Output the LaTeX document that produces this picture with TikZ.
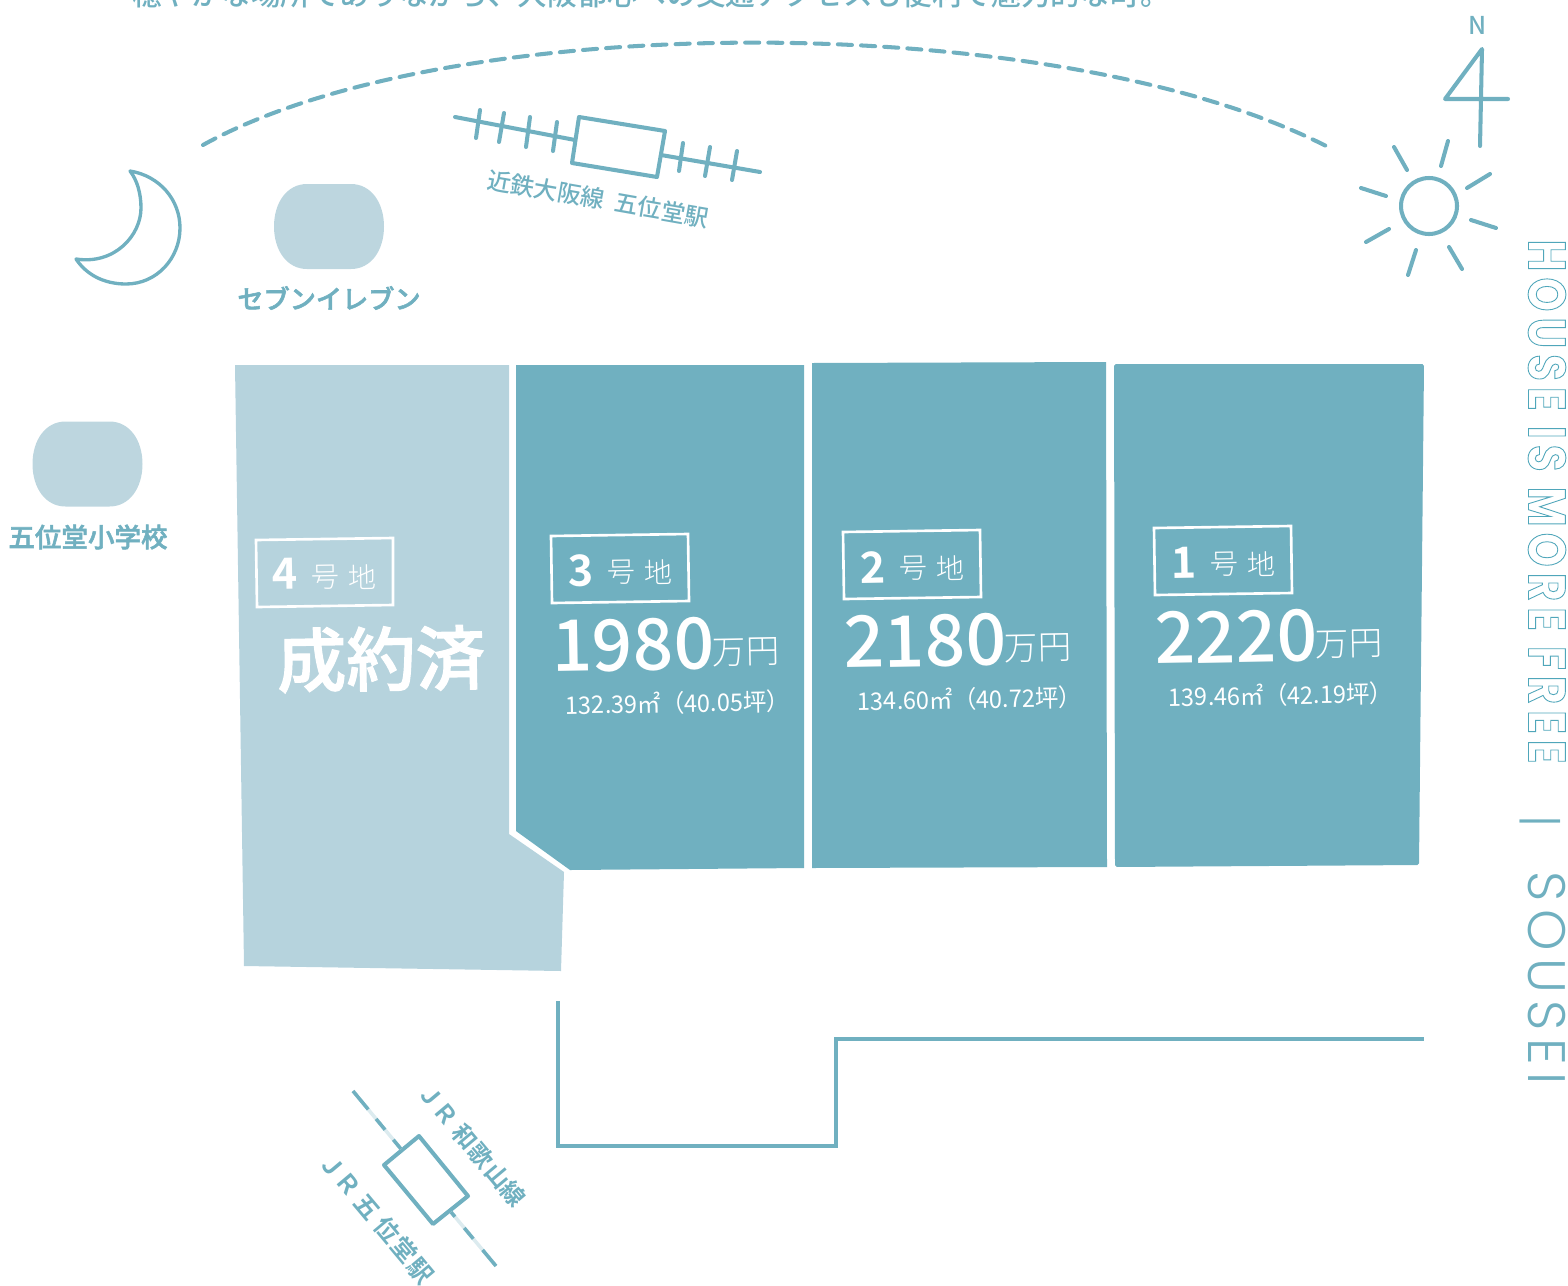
\documentclass[tikz,border=0pt]{standalone}
\usepackage{fontspec}
\setmainfont{Noto Sans CJK JP Medium}
\newfontfamily\lightjp{Noto Sans CJK JP Light}
\newfontfamily\plainjp{Noto Sans CJK JP}
\newfontfamily\boldjp{Noto Sans CJK JP Bold}
\newfontfamily\housefont[FakeStretch=.82]{Poppins}
\newfontfamily\souseifont{Poppins Light}
\usepackage{xcolor}
\usetikzlibrary{calc}
\definecolor{lotblue}{HTML}{70B0C0}
\definecolor{lotpale}{HTML}{B6D3DD}
\definecolor{shopblue}{HTML}{BDD6DF}
\definecolor{trackpale}{HTML}{DCEBEF}
\definecolor{houseblue}{HTML}{4FA6BA}
\newcommand{\thicken}[1]{\special{pdf:code 2 Tr #1 w}}
% 1 unit is one pixel of the reference
\tikzset{
  line/.style={draw=lotblue, line width=2.3pt, line cap=round, line join=round},
  thin line/.style={draw=lotblue, line width=1.9pt, line cap=round, line join=round},
  plate/.style={draw=white, line width=1.5pt},
  caption/.style={text=lotblue, font=\fontsize{13.6pt}{13.6pt}\selectfont, inner sep=0pt},
  numeral/.style={text=white, font=\fontsize{24.5pt}{24.5pt}\boldjp, inner sep=0pt, rotate=1},
  kana/.style={text=white, font=\fontsize{16pt}{16pt}\lightjp, inner sep=0pt, rotate=1},
  price/.style={text=white, font=\fontsize{40.5pt}{40.5pt}\selectfont, inner sep=0pt, rotate=1},
  yen/.style={text=white, font=\fontsize{19pt}{19pt}\lightjp\addfontfeature{LetterSpace=2}, inner sep=0pt, rotate=1},
  lotarea/.style={text=white, font=\fontsize{13.8pt}{13.8pt}\plainjp\addfontfeature{FakeStretch=.97}, inner sep=0pt, rotate=1},
  shop/.pic={
    \fill[shopblue] (-22,-42.5) -- (22,-42.5) .. controls (42,-42.5) and (55,-24) .. (55,0)
      .. controls (55,24) and (42,42.5) .. (22,42.5) -- (-22,42.5)
      .. controls (-42,42.5) and (-55,24) .. (-55,0) .. controls (-55,-24) and (-42,-42.5) .. (-22,-42.5) -- cycle;
  }
}
\begin{document}
\begin{tikzpicture}[x=0.02cm, y=-0.02cm]
  \useasboundingbox (0,0) rectangle (1568,1285);
  \node[text=lotblue, font=\fontsize{16.9pt}{16.9pt}\selectfont, inner sep=0pt] (headline) at (651,-6) {穏やかな場所でありながら、大阪都心への交通アクセスも便利で魅力的な町。};
  % sky
  \draw[line, dash pattern=on 8pt off 5.2pt] (203,145) .. controls (450,8) and (1060,8) .. (1330,148);
  \draw[thin line] (130,171) .. controls (160,176) and (180,200) .. (180,228) .. controls (180,258) and (157,284) .. (126,284)
    .. controls (103,284) and (86,274) .. (76,259) .. controls (115,265) and (141,235) .. (141,208) .. controls (141,193) and (137,180) .. (130,171) -- cycle;
  \draw[line] (1429,206) circle (28);
  \draw[line] (1394,147) -- (1407,170);
  \draw[line] (1448,141) -- (1441,166);
  \draw[line] (1490,174) -- (1467,188);
  \draw[line] (1496,228) -- (1471,220);
  \draw[line] (1462,269) -- (1449,247);
  \draw[line] (1416,250) -- (1408,275);
  \draw[line] (1389,229) -- (1366,242);
  \draw[line] (1386,196) -- (1361,188);
  % north mark
  \node[text=lotblue, font=\fontsize{14pt}{14pt}\selectfont, inner sep=0pt] (north) at (1478,25) {N};
  \draw[line] (1508,99) -- (1445,99) -- (1482,49) -- (1480,146);
  % kintetsu station
  \draw[line] (579,117) -- (665,131) -- (657,177) -- (572,163) -- cycle;
  \draw[line] (455,117) -- (575,140);
  \draw[line] (661,155) -- (760,172);
  \foreach \ax/\ay/\bx/\by in {480/110/476/138, 504/113/499/142, 530/117/526/147, 557/122/553/151, 683/143/679/171, 710/147/705/176, 737/151/732/180}
    \draw[line] (\ax,\ay) -- (\bx,\by);
  \node[caption, rotate=-10, font=\fontsize{13.5pt}{13.5pt}\selectfont] (kintetsu) at (598,199) {近鉄大阪線\hspace{3pt} 五位堂駅};
  % shops
  \pic at (329,226.5) {shop};
  \pic at (87.5,464) {shop};
  \node[caption, font=\fontsize{14.9pt}{14.9pt}\selectfont] (seven) at (329,298) {\thicken{0.3}セブンイレブン};
  \node[caption, font=\fontsize{15.1pt}{15.1pt}\selectfont] (school) at (88,537) {\thicken{0.3}五位堂小学校};
  % lots
  \fill[lotpale] (235,365) -- (509,365) -- (509,834) -- (564,872) -- (561,971) -- (244,966) -- cycle;
  \fill[lotblue] (516,365) -- (804,365) -- (804,868) -- (570,870) -- (516,831) -- cycle;
  \fill[lotblue] (812,363) -- (1106,362) -- (1107,867) -- (812,868) -- cycle;
  \fill[lotblue, rounded corners=1pt] (1114,364) -- (1424,364) -- (1419,865) -- (1115,867) -- cycle;
  % lot 4 is sold
  \draw[plate] (256,540) -- (393,538) -- (393,605) -- (257,607) -- cycle;
  \node[numeral] (num4) at (285,574) {4};
  \node[kana] (go4) at (325,577) {号};
  \node[kana] (chi4) at (362,577) {地};
  \node[text=white, font=\fontsize{39.5pt}{39.5pt}\selectfont, inner sep=0pt, rotate=1] (sold) at (381,659) {\thicken{0.6}成約済};
  % lots for sale
  \foreach \n/\x/\y/\cost/\size in {3/551/536/1980/{132.39㎡（40.05坪）}, 2/843/532/2180/{134.60㎡（40.72坪）}, 1/1154/528/2220/{139.46㎡（42.19坪）}} {
    \draw[plate] (\x,\y) -- ($(\x,\y)+(137,-2)$) -- ($(\x,\y)+(138,65)$) -- ($(\x,\y)+(1,67)$) -- cycle;
    \node[numeral] (num\n) at ($(\x,\y)+(30,35)$) {\n};
    \node[kana] (go\n) at ($(\x,\y)+(70,36)$) {号};
    \node[kana] (chi\n) at ($(\x,\y)+(107,36)$) {地};
    \node[price] (cost\n) at ($(\x,\y)+(82,109)$) {\cost};
    \node[yen] (yen\n) at ($(\x,\y)+(195,116)$) {万円};
    \node[lotarea] (size\n) at ($(\x,\y)+(127,167)$) {\size};
  }
  % road
  \draw[draw=lotblue, line width=2.6pt] (558,1001) -- (558,1146) -- (836,1146) -- (836,1039) -- (1424,1039);
  % jr station
  \draw[line] (419,1136) -- (468,1196) -- (433,1224) -- (384,1165) -- cycle;
  \draw[draw=trackpale, line width=2pt] (353,1091) -- (401,1149);
  \draw[draw=lotblue, line width=2pt, dash pattern=on 13.6pt off 7pt on 8pt off 7.4pt on 7pt] (353,1091) -- (401,1149);
  \draw[draw=trackpale, line width=2pt] (451,1212) -- (496,1266);
  \draw[draw=lotblue, line width=2pt, dash pattern=on 3.5pt off 8.3pt on 8pt off 8.3pt on 12pt] (451,1212) -- (496,1266);
  \node[caption, rotate=-50, font=\fontsize{13.6pt}{13.6pt}\boldjp] (wakayama) at (472,1145) {ＪＲ\hspace{3.5pt}和歌\hspace{1.7pt}山線};
  \node[caption, rotate=-50, font=\fontsize{14pt}{14pt}\boldjp] (goido) at (377,1218) {ＪＲ\hspace{3pt}五\hspace{3pt}位\hspace{1pt}堂\hspace{1pt}駅};
  % side title
  \node[rotate=-90, text=houseblue, font=\fontsize{30pt}{30pt}\housefont\bfseries, inner sep=0pt] (house) at (1547,501.5)
    {\special{pdf:code 1 Tr 0.5 w}\addfontfeature{LetterSpace=11.8}HOUSE IS MORE FREE};
  \node[rotate=-90, text=lotblue, font=\fontsize{26pt}{26pt}\souseifont, inner sep=0pt] (bar) at (1540,821) {|};
  \node[rotate=-90, text=lotblue, font=\fontsize{30pt}{30pt}\souseifont\addfontfeature{LetterSpace=14}, inner sep=0pt] (sousei) at (1547,978) {SOUSEI};
\end{tikzpicture}
\end{document}
